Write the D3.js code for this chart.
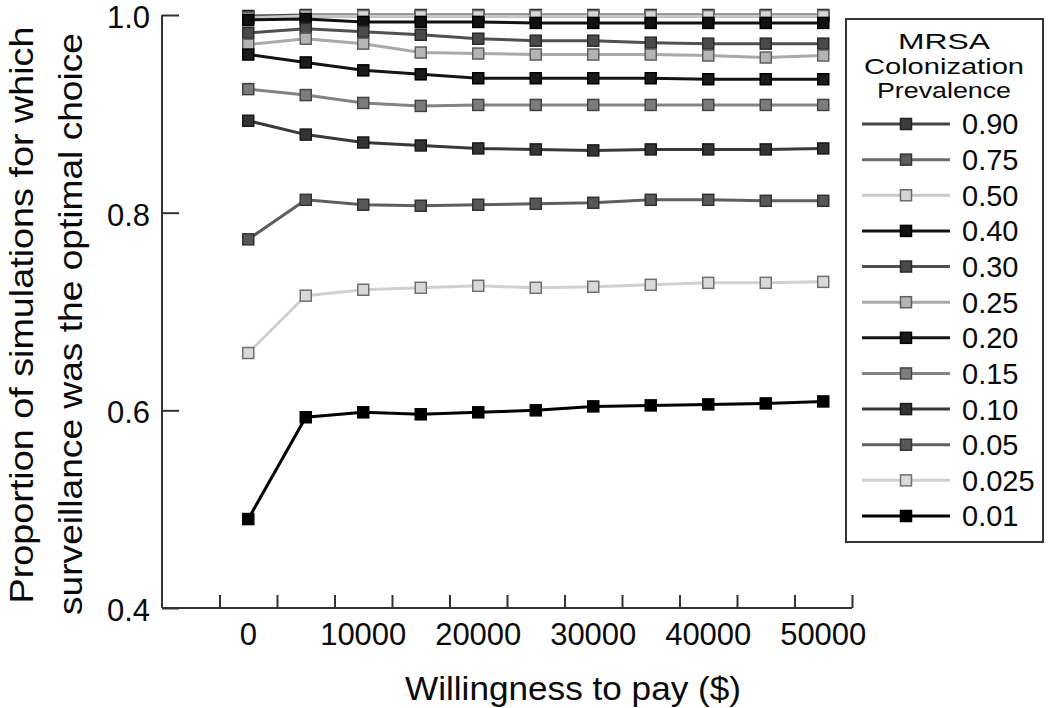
<!DOCTYPE html>
<html>
<head>
<meta charset="utf-8">
<script src="https://cdn.jsdelivr.net/npm/d3@7"></script>
<style>
  html, body { margin: 0; padding: 0; background: #fff; }
  svg { display: block; font-family: "Liberation Sans", Arial, sans-serif; }
</style>
</head>
<body>
<svg id="chart" width="1050" height="708"></svg>
<script>
// ---- data ----
const wtp = [0, 5000, 10000, 15000, 20000, 25000, 30000, 35000, 40000, 45000, 50000];
const xTickLabels = [0, 10000, 20000, 30000, 40000, 50000];
const yTickValues = [0.4, 0.6, 0.8, 1.0];
const prevalence = ["0.90", "0.75", "0.50", "0.40", "0.30", "0.25", "0.20", "0.15", "0.10", "0.05", "0.025", "0.01"];

const p090 = [0.999, 1.000, 1.000, 1.000, 1.000, 1.000, 1.000, 1.000, 1.000, 1.000, 1.000];
const p075 = [0.998, 0.999, 0.999, 0.999, 0.999, 0.999, 0.999, 0.999, 0.999, 0.999, 0.999];
const p050 = [0.997, 0.999, 0.999, 0.999, 0.999, 0.999, 0.999, 0.999, 0.999, 0.999, 0.999];
const p040 = [0.995, 0.996, 0.993, 0.993, 0.993, 0.992, 0.992, 0.992, 0.992, 0.992, 0.992];
const p030 = [0.982, 0.986, 0.983, 0.980, 0.976, 0.974, 0.974, 0.972, 0.971, 0.971, 0.971];
const p025 = [0.970, 0.976, 0.971, 0.962, 0.961, 0.960, 0.960, 0.960, 0.959, 0.957, 0.959];
const p020 = [0.960, 0.952, 0.944, 0.940, 0.936, 0.936, 0.936, 0.936, 0.935, 0.935, 0.935];
const p015 = [0.925, 0.919, 0.911, 0.908, 0.909, 0.909, 0.909, 0.909, 0.909, 0.909, 0.909];
const p010 = [0.893, 0.879, 0.871, 0.868, 0.865, 0.864, 0.863, 0.864, 0.864, 0.864, 0.865];
const p005 = [0.773, 0.813, 0.808, 0.807, 0.808, 0.809, 0.810, 0.813, 0.813, 0.812, 0.812];
const p0025 = [0.658, 0.716, 0.722, 0.724, 0.726, 0.724, 0.725, 0.727, 0.729, 0.729, 0.730];
const p001 = [0.490, 0.593, 0.598, 0.596, 0.598, 0.600, 0.604, 0.605, 0.606, 0.607, 0.609];

const seriesValues = [p090, p075, p050, p040, p030, p025, p020, p015, p010, p005, p0025, p001];

// styles per series (line colour, marker fill, marker stroke)
const styles = [
  {line: "#474747", fill: "#3c3c3c", stroke: "#222"},
  {line: "#6c6c6c", fill: "#5c5c5c", stroke: "#333"},
  {line: "#c9c9c9", fill: "#d6d6d6", stroke: "#6a6a6a"},
  {line: "#121212", fill: "#111",    stroke: "#000"},
  {line: "#505050", fill: "#4a4a4a", stroke: "#2a2a2a"},
  {line: "#a9a9a9", fill: "#b4b4b4", stroke: "#5e5e5e"},
  {line: "#141414", fill: "#1a1a1a", stroke: "#000"},
  {line: "#838383", fill: "#7c7c7c", stroke: "#444"},
  {line: "#393939", fill: "#343434", stroke: "#1a1a1a"},
  {line: "#5f5f5f", fill: "#575757", stroke: "#333"},
  {line: "#d0d0d0", fill: "#d9d9d9", stroke: "#707070"},
  {line: "#000",    fill: "#000",    stroke: "#000"}
];

const series = prevalence.map((p, i) => ({
  name: p,
  style: styles[i],
  values: wtp.map((w, j) => ({x: w, y: seriesValues[i][j]}))
}));

// ---- layout ----
const svg = d3.select("#chart");
const x = d3.scaleLinear().domain([-7500, 52500]).range([162, 852]);
const y = d3.scaleLinear().domain([0.4, 1.0]).range([608, 15]);
const axisColor = "#333";
const textColor = "#0a0a0a";

// axes
const xAxisG = svg.append("g").attr("transform", `translate(0,${y(0.4)})`);
const boundaryTicks = d3.range(-2500, 52501, 5000);
xAxisG.call(d3.axisTop(x).tickValues(boundaryTicks).tickSize(13).tickFormat(""));
xAxisG.select(".domain").attr("d", `M${x(-7500)},0H${x(52500)}`);
xAxisG.selectAll("path, line").attr("stroke", axisColor).attr("stroke-width", 2);

xAxisG.selectAll(".xlab").data(xTickLabels).enter().append("text")
  .attr("class", "xlab")
  .attr("x", d => x(d)).attr("y", 37)
  .attr("text-anchor", "middle")
  .attr("font-size", 31).attr("fill", textColor)
  .text(d => d);

const yAxisG = svg.append("g").attr("transform", `translate(${x(-7500)},0)`);
yAxisG.call(d3.axisRight(y).tickValues(yTickValues).tickSize(17).tickFormat(""));
yAxisG.select(".domain").attr("d", `M0,${y(1.0)}V${y(0.4)}`);
yAxisG.selectAll("path, line").attr("stroke", axisColor).attr("stroke-width", 2);
yAxisG.selectAll(".ylab").data(yTickValues).enter().append("text")
  .attr("class", "ylab")
  .attr("x", -12).attr("y", d => y(d) + 13)
  .attr("text-anchor", "end")
  .attr("font-size", 31).attr("fill", textColor)
  .text(d => d3.format(".1f")(d));

// axis titles
svg.append("text")
  .attr("x", 573).attr("y", 700)
  .attr("text-anchor", "middle")
  .attr("font-size", 33).attr("fill", textColor)
  .attr("textLength", 336).attr("lengthAdjust", "spacingAndGlyphs")
  .text("Willingness to pay ($)");

const yTitle = svg.append("g").attr("transform", "translate(0,315) rotate(-90)");
yTitle.append("text")
  .attr("x", 0).attr("y", 33)
  .attr("text-anchor", "middle")
  .attr("font-size", 34).attr("fill", textColor)
  .attr("textLength", 577).attr("lengthAdjust", "spacingAndGlyphs")
  .text("Proportion of simulations for which");
yTitle.append("text")
  .attr("x", -9).attr("y", 82)
  .attr("text-anchor", "middle")
  .attr("font-size", 34).attr("fill", textColor)
  .attr("textLength", 582).attr("lengthAdjust", "spacingAndGlyphs")
  .text("surveillance was the optimal choice");

// lines and markers
const line = d3.line().x(d => x(d.x)).y(d => y(d.y));
const ms = 11;
series.forEach(s => {
  const g = svg.append("g").attr("class", "series");
  g.append("path")
    .attr("d", line(s.values))
    .attr("fill", "none")
    .attr("stroke", s.style.line)
    .attr("stroke-width", 3);
  g.selectAll("rect").data(s.values).enter().append("rect")
    .attr("x", d => x(d.x) - ms / 2)
    .attr("y", d => y(d.y) - ms / 2)
    .attr("width", ms).attr("height", ms)
    .attr("fill", s.style.fill)
    .attr("stroke", s.style.stroke)
    .attr("stroke-width", 1.5);
});

// legend
const legend = svg.append("g");
legend.append("rect")
  .attr("x", 846).attr("y", 19).attr("width", 197).attr("height", 523)
  .attr("fill", "#fff").attr("stroke", axisColor).attr("stroke-width", 2);
const titleLines = ["MRSA", "Colonization", "Prevalence"];
const titleLens = [92, 160, 134];
legend.selectAll(".lt").data(titleLines).enter().append("text")
  .attr("class", "lt")
  .attr("x", 944).attr("y", (d, i) => 49 + i * 24.5)
  .attr("text-anchor", "middle")
  .attr("font-size", 22).attr("fill", textColor)
  .attr("textLength", (d, i) => titleLens[i]).attr("lengthAdjust", "spacingAndGlyphs")
  .text(d => d);

const ly = d3.scalePoint().domain(prevalence).range([124, 516]);
const items = legend.selectAll(".li").data(series).enter().append("g")
  .attr("class", "li")
  .attr("transform", d => `translate(0,${ly(d.name)})`);
items.append("line")
  .attr("x1", 862).attr("x2", 950).attr("y1", 0).attr("y2", 0)
  .attr("stroke", d => d.style.line).attr("stroke-width", 3);
items.append("rect")
  .attr("x", 906 - ms / 2).attr("y", -ms / 2).attr("width", ms).attr("height", ms)
  .attr("fill", d => d.style.fill).attr("stroke", d => d.style.stroke).attr("stroke-width", 1.5);
items.append("text")
  .attr("x", 962).attr("y", 0).attr("dy", "0.36em")
  .attr("font-size", 29).attr("fill", textColor)
  .text(d => d.name);
</script>
</body>
</html>
